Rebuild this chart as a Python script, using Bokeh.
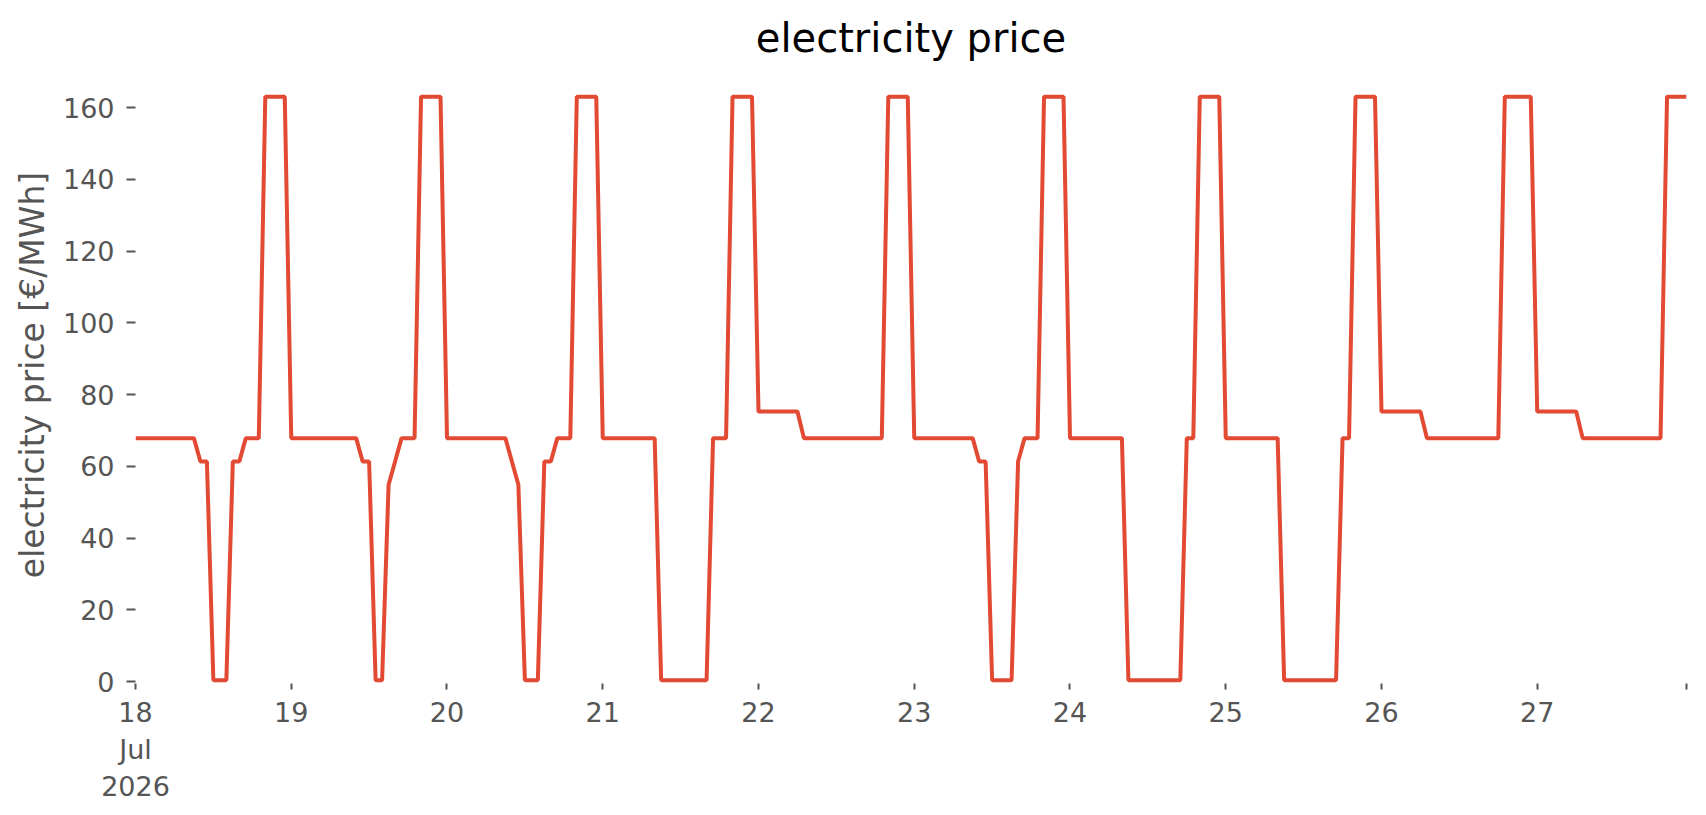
import pandas as pd
from bokeh.plotting import figure
from bokeh.models import Range1d, FixedTicker
from bokeh.embed import file_html
from bokeh.resources import INLINE

# hourly timestamps, 18 Jul 2026 00:00 .. 27 Jul 2026 23:00
times = pd.date_range("2026-07-18 00:00", periods=240, freq="h")

# electricity price [€/MWh], one row per day (24 hourly values)
day18 = [67.9] * 10 + [61.4] * 2 + [0.4] * 3 + [61.4] * 2 + [67.9] * 3 + [163.1] * 4
day19 = [67.9] * 11 + [61.4] * 2 + [0.4] * 2 + [54.9, 61.4] + [67.9] * 3 + [163.1] * 4
day20 = [67.9] * 10 + [61.4, 54.9] + [0.4] * 3 + [61.4] * 2 + [67.9] * 3 + [163.1] * 4
day21 = [67.9] * 9 + [0.4] * 8 + [67.9] * 3 + [163.1] * 4
day22 = [75.3] * 7 + [67.9] * 13 + [163.1] * 4
day23 = [67.9] * 10 + [61.4] * 2 + [0.4] * 4 + [61.4] + [67.9] * 3 + [163.1] * 4
day24 = [67.9] * 9 + [0.4] * 9 + [67.9] * 2 + [163.1] * 4
day25 = [67.9] * 9 + [0.4] * 9 + [67.9] * 2 + [163.1] * 4
day26 = [75.3] * 7 + [67.9] * 12 + [163.1] * 5
day27 = [75.3] * 7 + [67.9] * 13 + [163.1] * 4
price = day18 + day19 + day20 + day21 + day22 + day23 + day24 + day25 + day26 + day27

day_ticks = list(pd.date_range("2026-07-18", periods=10, freq="D")) + [times[-1]]
day_labels = ["18\nJul\n2026", "19", "20", "21", "22", "23", "24", "25", "26", "27", ""]
y_ticks = [0, 20, 40, 60, 80, 100, 120, 140, 160]

FONT = "DejaVu Sans"
GREY = "#555555"

p = figure(
    width=1690, height=806,
    x_axis_type="datetime",
    output_backend="svg", toolbar_location=None,
    title="electricity price",
    x_range=Range1d(times[0], times[-1]),
    y_range=Range1d(-0.5, 171.5),
    min_border_left=135, min_border_right=4,
    min_border_top=66, min_border_bottom=123,
)
p.background_fill_color = "white"
p.border_fill_color = "white"
p.outline_line_color = None
p.xgrid.visible = False
p.ygrid.visible = False

p.title.text_font = FONT
p.title.text_font_size = "40px"
p.title.text_font_style = "normal"
p.title.text_color = "black"
p.title.align = "center"
p.title.standoff = 12

p.line(times, price, line_color="#E24A33", line_width=4)

tick_ms = [float(t.value // 10**6) for t in day_ticks]
p.xaxis.ticker = FixedTicker(ticks=tick_ms)
p.xaxis.major_label_overrides = {ms: lab for ms, lab in zip(tick_ms, day_labels)}
p.yaxis.ticker = FixedTicker(ticks=y_ticks)

for ax in (p.xaxis, p.yaxis):
    ax.axis_line_color = None
    ax.major_tick_line_color = GREY
    ax.major_tick_line_width = 2
    ax.major_tick_in = 0
    ax.minor_tick_line_color = None
    ax.major_label_text_font = FONT
    ax.major_label_text_font_size = "27px"
    ax.major_label_text_color = GREY

p.xaxis.major_tick_out = 6
p.xaxis.major_label_standoff = 7
p.yaxis.major_tick_out = 9
p.yaxis.major_label_standoff = 12

p.yaxis.axis_label = "electricity price [€/MWh]"
p.yaxis.axis_label_text_font = FONT
p.yaxis.axis_label_text_font_size = "33px"
p.yaxis.axis_label_text_font_style = "normal"
p.yaxis.axis_label_text_color = GREY
p.yaxis.axis_label_standoff = 8

open("out.html", "w").write(file_html(p, INLINE))
